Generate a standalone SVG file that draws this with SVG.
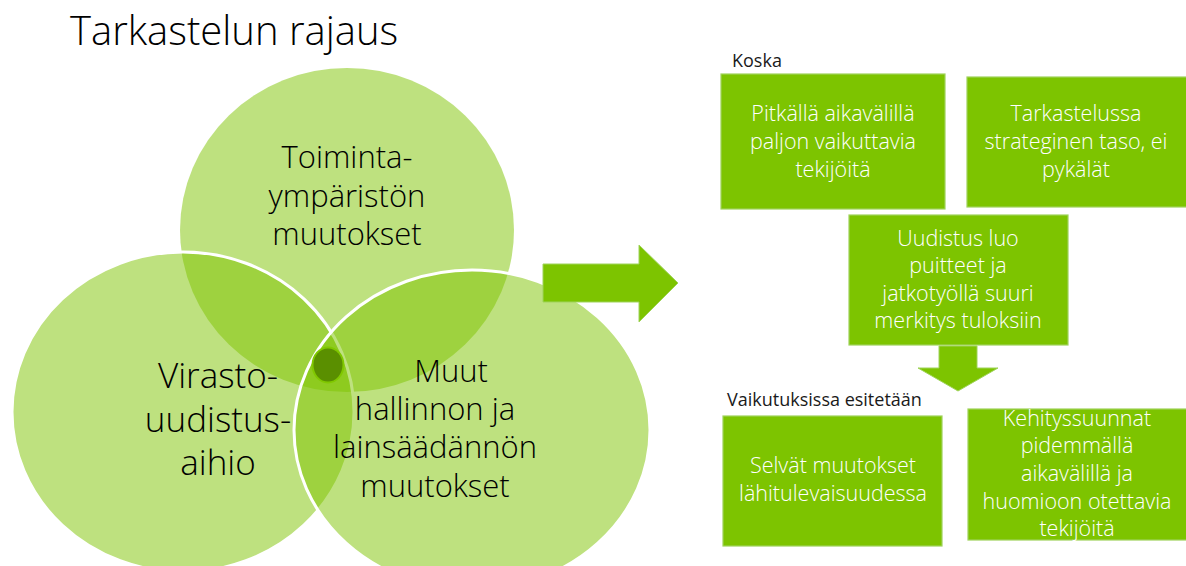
<svg xmlns="http://www.w3.org/2000/svg" width="1186" height="566" viewBox="0 0 1186 566">
<style>
text{font-family:"Open Sans","Noto Sans","Liberation Sans",sans-serif;font-weight:300}
.title{font-size:40px;fill:#000}
.ct{font-size:31px;fill:#000;text-anchor:middle}
.ctl{font-size:35px;fill:#000;text-anchor:middle}
.bt{font-size:21.5px;fill:#fff;text-anchor:middle}
.lab{font-size:18px;fill:#1a1a1a;font-weight:400}
.venn{fill:#7DC400;fill-opacity:0.5}
.box{fill:#7DC400;stroke:#9fd35a;stroke-width:1.2}
.arrow{fill:#7DC400;stroke:#9fd35a;stroke-width:1}
</style>
<rect width="1186" height="566" fill="#fff"/>
<text class="title" x="70" y="45">Tarkastelun rajaus</text>

<g id="venn-top">
<ellipse class="venn" cx="347" cy="230" rx="167" ry="162"/>
</g>
<g id="venn-left">
<ellipse class="venn" cx="183" cy="412" rx="171" ry="160" stroke="#fff" stroke-width="3"/>
</g>
<g id="venn-right">
<ellipse class="venn" cx="472" cy="430" rx="178" ry="160" stroke="#fff" stroke-width="3"/>
</g>
<g id="venn-center">
<ellipse cx="328" cy="365" rx="16.5" ry="18.5" fill="#80C800"/>
<ellipse cx="328" cy="365" rx="14.5" ry="16.5" fill="#5A8F00"/>
</g>
<g id="venn-labels">
<text class="ct" x="347" y="168">Toiminta-</text>
<text class="ct" x="347" y="207">ympäristön</text>
<text class="ct" x="347" y="245">muutokset</text>
<text class="ctl" x="218" y="388">Virasto-</text>
<text class="ctl" x="218" y="432">uudistus-</text>
<text class="ctl" x="218" y="475">aihio</text>
<text class="ct" x="451" y="382">Muut</text>
<text class="ct" x="435" y="420">hallinnon ja</text>
<text class="ct" x="435" y="458">lainsäädännön</text>
<text class="ct" x="435" y="497">muutokset</text>
</g>

<g id="connectors">
<polygon class="arrow" points="543,264 639,264 639,245 678,283 639,322 639,302 543,302"/>
<polygon class="arrow" points="939,346 977,346 977,368 998,368 958,391 918,368 939,368"/>
</g>

<text class="lab" x="732" y="67">Koska</text>
<g id="box1">
<rect class="box" x="721" y="74" width="224" height="135"/>
<text class="bt" x="833" y="121">Pitkällä aikavälillä</text>
<text class="bt" x="833" y="149">paljon vaikuttavia</text>
<text class="bt" x="833" y="177">tekijöitä</text>
</g>
<g id="box2">
<rect class="box" x="967" y="77" width="220" height="130"/>
<text class="bt" x="1076" y="121">Tarkastelussa</text>
<text class="bt" x="1076" y="149">strateginen taso, ei</text>
<text class="bt" x="1076" y="177">pykälät</text>
</g>
<g id="box3">
<rect class="box" x="849" y="215" width="219" height="130"/>
<text class="bt" x="958" y="246">Uudistus luo</text>
<text class="bt" x="958" y="273">puitteet ja</text>
<text class="bt" x="958" y="301">jatkotyöllä suuri</text>
<text class="bt" x="958" y="328">merkitys tuloksiin</text>
</g>
<text class="lab" x="727" y="406">Vaikutuksissa esitetään</text>
<g id="box4">
<rect class="box" x="723" y="416" width="219" height="130"/>
<text class="bt" x="833" y="473">Selvät muutokset</text>
<text class="bt" x="833" y="501">lähitulevaisuudessa</text>
</g>
<g id="box5">
<rect class="box" x="968" y="409" width="219" height="131"/>
<text class="bt" x="1077" y="426">Kehityssuunnat</text>
<text class="bt" x="1077" y="453">pidemmällä</text>
<text class="bt" x="1077" y="481">aikavälillä ja</text>
<text class="bt" x="1077" y="509">huomioon otettavia</text>
<text class="bt" x="1077" y="536">tekijöitä</text>
</g>
</svg>
